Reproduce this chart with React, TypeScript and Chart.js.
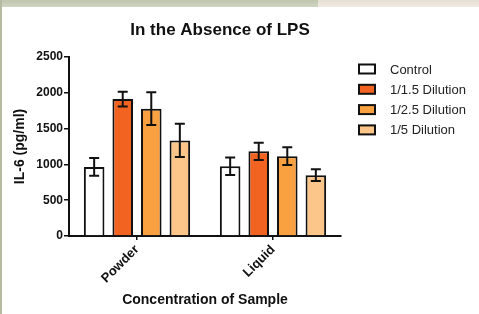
import React, { useEffect, useRef } from "react";
import { Chart, registerables } from "chart.js";

Chart.register(...registerables);

const chartTitle = "In the Absence of LPS";
const categories = ["Powder", "Liquid"];
const seriesNames = ["Control", "1/1.5 Dilution", "1/2.5 Dilution", "1/5 Dilution"];
const controlValues = [965, 975];
const dil15Values = [1912, 1183];
const dil25Values = [1778, 1115];
const dil5Values = [1335, 850];
const controlErr = [123, 122];
const dil15Err = [103, 121];
const dil25Err = [228, 124];
const dil5Err = [232, 81];
const yTicks = [0, 500, 1000, 1500, 2000, 2500];
const seriesColors = ["#ffffff", "#f26322", "#f9a040", "#fcc58a"];
const FONT = "'Liberation Sans', Arial, Helvetica, sans-serif";

const errorBarPlugin = {
  id: "errorBars",
  afterDatasetsDraw(chart: any) {
    const ctx = chart.ctx;
    const y = chart.scales.y;
    ctx.save();
    ctx.strokeStyle = "#111";
    ctx.lineWidth = 2;
    chart.data.datasets.forEach((ds: any, di: number) => {
      const meta = chart.getDatasetMeta(di);
      meta.data.forEach((el: any, i: number) => {
        const v = ds.data[i];
        const e = ds.errors[i];
        const x = el.x;
        const yt = y.getPixelForValue(v + e);
        const yb = y.getPixelForValue(v - e);
        ctx.beginPath();
        ctx.moveTo(x, yt);
        ctx.lineTo(x, yb);
        ctx.moveTo(x - 5, yt);
        ctx.lineTo(x + 5, yt);
        ctx.moveTo(x - 5, yb);
        ctx.lineTo(x + 5, yb);
        ctx.stroke();
      });
    });
    ctx.restore();
  },
};

const decorPlugin = {
  id: "decor",
  afterDraw(chart: any) {
    const ctx = chart.ctx;
    const area = chart.chartArea;
    ctx.save();
    ctx.fillStyle = "#111";
    ctx.font = `bold 17px ${FONT}`;
    ctx.textAlign = "center";
    ctx.textBaseline = "middle";
    ctx.fillText(chartTitle, 220, 30);
    ctx.font = `13px ${FONT}`;
    ctx.textAlign = "left";
    chart.data.datasets.forEach((ds: any, i: number) => {
      const cy = 69 + i * 20.3;
      const bx = area.right + 18;
      ctx.fillStyle = ds.backgroundColor;
      ctx.fillRect(bx, cy - 4.5, 16, 9);
      ctx.strokeStyle = "#111";
      ctx.lineWidth = 2;
      ctx.strokeRect(bx, cy - 4.5, 16, 9);
      ctx.fillStyle = "#222";
      ctx.fillText(ds.label, bx + 31, cy + 1);
    });
    ctx.restore();
  },
};

export default function App() {
  const ref = useRef<HTMLCanvasElement>(null);
  useEffect(() => {
    const values = [controlValues, dil15Values, dil25Values, dil5Values];
    const errs = [controlErr, dil15Err, dil25Err, dil5Err];
    const chart = new Chart(ref.current as HTMLCanvasElement, {
      type: "bar",
      data: {
        labels: categories,
        datasets: seriesNames.map((name, i) => ({
          label: name,
          data: values[i],
          errors: errs[i],
          backgroundColor: seriesColors[i],
          borderColor: "#111",
          borderWidth: 2,
          categoryPercentage: 0.84,
          barPercentage: 0.72,
        })) as any,
      },
      options: {
        animation: false,
        responsive: false,
        maintainAspectRatio: false,
        layout: { padding: { left: 0, right: 138, top: 57, bottom: 0 } },
        plugins: { legend: { display: false }, title: { display: false }, tooltip: { enabled: false } },
        scales: {
          x: {
            afterFit: (s: any) => { s.height = 78; },
            grid: { display: true, drawOnChartArea: false, drawTicks: true, tickLength: 4, color: "#111", lineWidth: 1.5, offset: false },
            border: { display: true, color: "#111", width: 2 },
            ticks: { color: "#111", font: { family: FONT, size: 13, weight: "bold" }, minRotation: 45, maxRotation: 45, padding: 2 },
            title: { display: true, text: "Concentration of Sample", color: "#111", font: { family: FONT, size: 14, weight: "bold" }, padding: { top: 0, bottom: 5.6 } },
          },
          y: {
            min: 0,
            max: 2500,
            afterFit: (s: any) => { s.width = 69; },
            afterBuildTicks: (s: any) => { s.ticks = yTicks.map((v) => ({ value: v })); },
            grid: { display: true, drawOnChartArea: false, drawTicks: true, tickLength: 5, color: "#111", lineWidth: 1.5 },
            border: { display: true, color: "#111", width: 2 },
            ticks: { color: "#111", font: { family: FONT, size: 12, weight: "bold" }, padding: 1, callback: (v: any) => String(v) },
            title: { display: true, text: "IL-6 (pg/ml)", color: "#111", font: { family: FONT, size: 14, weight: "bold" }, padding: { top: 11.6, bottom: 0 } },
          },
        },
      },
      plugins: [errorBarPlugin, decorPlugin],
    } as any);
    return () => chart.destroy();
  }, []);

  return (
    <div style={{ position: "fixed", left: 0, top: 0, width: 479, height: 314, background: "#ffffff", overflow: "hidden" }}>
      <div style={{ position: "absolute", left: 0, top: 0, width: 318, height: 7, background: "linear-gradient(#bfc5ae, #d0d5c3)" }} />
      <div style={{ position: "absolute", left: 318, top: 0, width: 161, height: 7, background: "linear-gradient(#e6dfd4, #efe9e1)" }} />
      <div style={{ position: "absolute", left: 0, top: 0, width: 2, height: 314, background: "#b5bba3" }} />
      <canvas ref={ref} width={479} height={314} style={{ position: "absolute", left: 0, top: 0, width: 479, height: 314 }} />
    </div>
  );
}
